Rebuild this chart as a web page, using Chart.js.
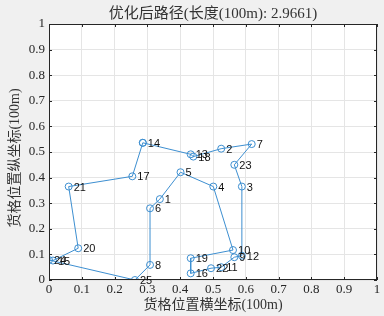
<!DOCTYPE html>
<html>
<head>
<meta charset="utf-8">
<script src="https://cdn.jsdelivr.net/npm/chart.js@4/dist/chart.umd.min.js"></script>
<style>
  body { margin: 0; background: #f0f0f0; }
  canvas { display: block; }
</style>
</head>
<body>
<canvas id="chart-canvas" width="384" height="316"></canvas>
<script>
// route order (closed tour), with the positions
const pointIds = [14, 17, 21, 20, 15, 24, 25, 8, 6, 1, 5, 4, 10, 19, 16, 22, 11, 9, 12, 3, 23, 7, 2, 18, 13];
const xs = [0.286, 0.254, 0.060, 0.089, 0.012, 0.000, 0.262, 0.308, 0.308, 0.338, 0.401, 0.501, 0.561,
            0.432, 0.432, 0.494, 0.525, 0.565, 0.588, 0.588, 0.565, 0.618, 0.525, 0.440, 0.432];
const ys = [0.536, 0.405, 0.365, 0.124, 0.076, 0.078, 0.000, 0.059, 0.280, 0.316, 0.421, 0.365, 0.117,
            0.085, 0.026, 0.046, 0.050, 0.089, 0.095, 0.365, 0.450, 0.531, 0.513, 0.482, 0.491];
const titleText = "优化后路径(长度(100m): 2.9661)";
const xTitle = "货格位置横坐标(100m)";
const yTitle = "货格位置纵坐标(100m)";

const LINE = "#3d8fd1";
const AXIS = "#262626";
const SERIF = "'Liberation Serif', 'Noto Sans CJK SC', serif";

let DATA = xs.map((x, i) => ({x: x, y: ys[i]}));
DATA.push(DATA[0]);

function fmt(v) {
    return String(Number(v.toFixed(1)));
}

const decor = {
    id: "decor",
    beforeDraw(chart) {
        const c = chart.ctx, a = chart.chartArea;
        c.save();
        c.fillStyle = "#ffffff";
        c.fillRect(a.left, a.top, a.right - a.left, a.bottom - a.top);
        c.restore();
    },
    afterDraw(chart) {
        const c = chart.ctx, a = chart.chartArea;
        const sx = chart.scales.x, sy = chart.scales.y;
        c.save();
        // box and inward ticks
        c.strokeStyle = AXIS;
        c.lineWidth = 1;
        c.strokeRect(a.left + 0.5, a.top + 0.5, a.right - a.left - 1, a.bottom - a.top - 1);
        c.beginPath();
        for (let i = 0; i <= 10; i++) {
            const px = Math.round(sx.getPixelForValue(i / 10)) + 0.5;
            c.moveTo(px, a.bottom); c.lineTo(px, a.bottom - 3);
            c.moveTo(px, a.top); c.lineTo(px, a.top + 3);
            const py = Math.round(sy.getPixelForValue(i / 10)) + 0.5;
            c.moveTo(a.left, py); c.lineTo(a.left + 3, py);
            c.moveTo(a.right, py); c.lineTo(a.right - 3, py);
        }
        c.stroke();

        // point labels
        c.fillStyle = "#111111";
        c.font = "11px 'Liberation Sans', Arial, sans-serif";
        c.textBaseline = "middle";
        c.textAlign = "left";
        pointIds.forEach((id, i) => {
            const px = sx.getPixelForValue(xs[i]);
            const py = sy.getPixelForValue(ys[i]);
            c.fillText(String(id), px + 5, py + 1);
        });

        // titles
        c.fillStyle = "#333333";
        c.textAlign = "center";
        c.font = "15px " + SERIF;
        c.fillText(titleText, (a.left + a.right) / 2, 14);
        c.font = "14px " + SERIF;
        c.fillText(xTitle, (a.left + a.right) / 2, 305);
        c.translate(15, 158);
        c.rotate(-Math.PI / 2);
        c.fillText(yTitle, 0, 0);
        c.restore();
    }
};

const context = document.getElementById("chart-canvas").getContext("2d");
const chart = new Chart(context, {
    type: "scatter",
    data: {
        datasets: [{
            data: DATA,
            showLine: true,
            borderColor: LINE,
            borderWidth: 1,
            pointStyle: "circle",
            pointRadius: 3.5,
            pointBorderWidth: 1,
            pointBorderColor: LINE,
            pointBackgroundColor: "rgba(0,0,0,0)",
            tension: 0
        }]
    },
    options: {
        responsive: false,
        animation: false,
        layout: {padding: {top: 24, right: 7, left: 0, bottom: 0}},
        plugins: {
            legend: {display: false},
            tooltip: {enabled: false}
        },
        scales: {
            x: {
                type: "linear",
                min: 0,
                max: 1,
                ticks: {
                    stepSize: 0.1,
                    padding: 2,
                    color: AXIS,
                    font: {family: SERIF, size: 13},
                    callback: fmt,
                    maxRotation: 0
                },
                grid: {color: "#e5e5e5", drawTicks: false},
                border: {display: false},
                afterFit(s) { s.height = 36; }
            },
            y: {
                type: "linear",
                min: 0,
                max: 1,
                ticks: {
                    stepSize: 0.1,
                    padding: 4,
                    color: AXIS,
                    font: {family: SERIF, size: 13},
                    callback: fmt
                },
                grid: {color: "#e5e5e5", drawTicks: false},
                border: {display: false},
                afterFit(s) { s.width = 49; }
            }
        }
    },
    plugins: [decor]
});
</script>
</body>
</html>
